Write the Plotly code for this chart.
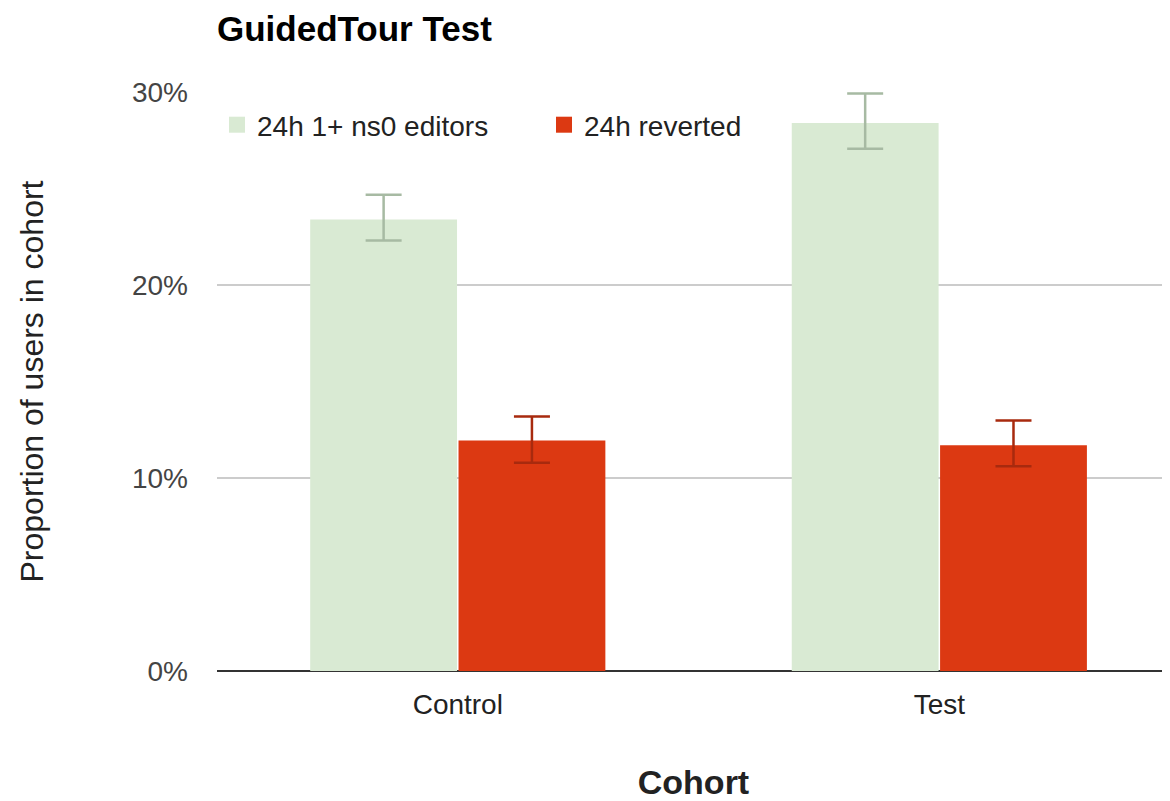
import plotly.graph_objects as go

cohorts = ["Control", "Test"]
series_names = ["24h 1+ ns0 editors", "24h reverted"]
series_colors = ["#d9ead3", "#dc3912"]
editors = [0.2339, 0.2840]
editors_err_plus = [0.0128, 0.0152]
editors_err_minus = [0.0108, 0.0134]
reverted = [0.1194, 0.1170]
reverted_err_plus = [0.0125, 0.0128]
reverted_err_minus = [0.0115, 0.0109]
y_ticks = [0, 0.1, 0.2, 0.3]
y_tick_labels = ["0%", "10%", "20%", "30%"]

FONT = "Liberation Sans, Arial, sans-serif"

fig = go.Figure()
fig.add_trace(go.Bar(
    x=cohorts, y=editors, name=series_names[0], showlegend=False,
    marker=dict(color=series_colors[0], line=dict(width=0)),
    error_y=dict(type="data", array=editors_err_plus, arrayminus=editors_err_minus,
                 color="#a7baa3", thickness=2.5, width=18),
))
fig.add_trace(go.Bar(
    x=cohorts, y=reverted, name=series_names[1], showlegend=False,
    marker=dict(color=series_colors[1], line=dict(width=0)),
    error_y=dict(type="data", array=reverted_err_plus, arrayminus=reverted_err_minus,
                 color="#a82a0e", thickness=2.5, width=18),
))
# legend entries (square swatches)
for name, col in zip(series_names, series_colors):
    fig.add_trace(go.Scatter(
        x=[None], y=[None], mode="markers", name=name,
        marker=dict(symbol="square", size=26, color=col),
        hoverinfo="skip",
    ))

# figure sits inside the page's 8px body margin
fig.update_layout(
    width=1162, height=793,
    paper_bgcolor="white", plot_bgcolor="white",
    margin=dict(l=209, r=0, t=84, b=130, autoexpand=False),
    barmode="group", bargap=0.384, bargroupgap=0.01,
    font=dict(family=FONT, color="#444"),
    title=dict(text="<b>GuidedTour Test</b>", font=dict(size=35, color="#000", family=FONT),
               x=209/1162, xanchor="left", y=1 - 20.5/793, yanchor="middle"),
    legend=dict(orientation="h", x=0, xanchor="left", y=0.943, yanchor="middle",
                font=dict(size=28, color="#222", family=FONT),
                bgcolor="rgba(0,0,0,0)", entrywidth=282, entrywidthmode="pixels",
                traceorder="normal", itemsizing="trace"),
    showlegend=True,
)
fig.update_xaxes(
    range=[-0.5, 1.479], showgrid=False, showline=False, zeroline=False, automargin=False,
    tickfont=dict(size=28, color="#222", family=FONT), ticks="", ticklabelstandoff=14,
    title=dict(text="<b>Cohort</b>", font=dict(size=34, color="#222", family=FONT), standoff=59),
)
fig.update_yaxes(
    range=[0, 0.3], tickvals=y_ticks, ticktext=y_tick_labels, automargin=False,
    showgrid=True, gridcolor="#cccccc", gridwidth=2,
    zeroline=True, zerolinecolor="#333333", zerolinewidth=2,
    showline=False, ticks="", ticklabelstandoff=28,
    tickfont=dict(size=28, color="#444", family=FONT),
    title=dict(text="Proportion of users in cohort", font=dict(size=32, color="#222", family=FONT), standoff=78),
)

fig.write_html("out.html")
